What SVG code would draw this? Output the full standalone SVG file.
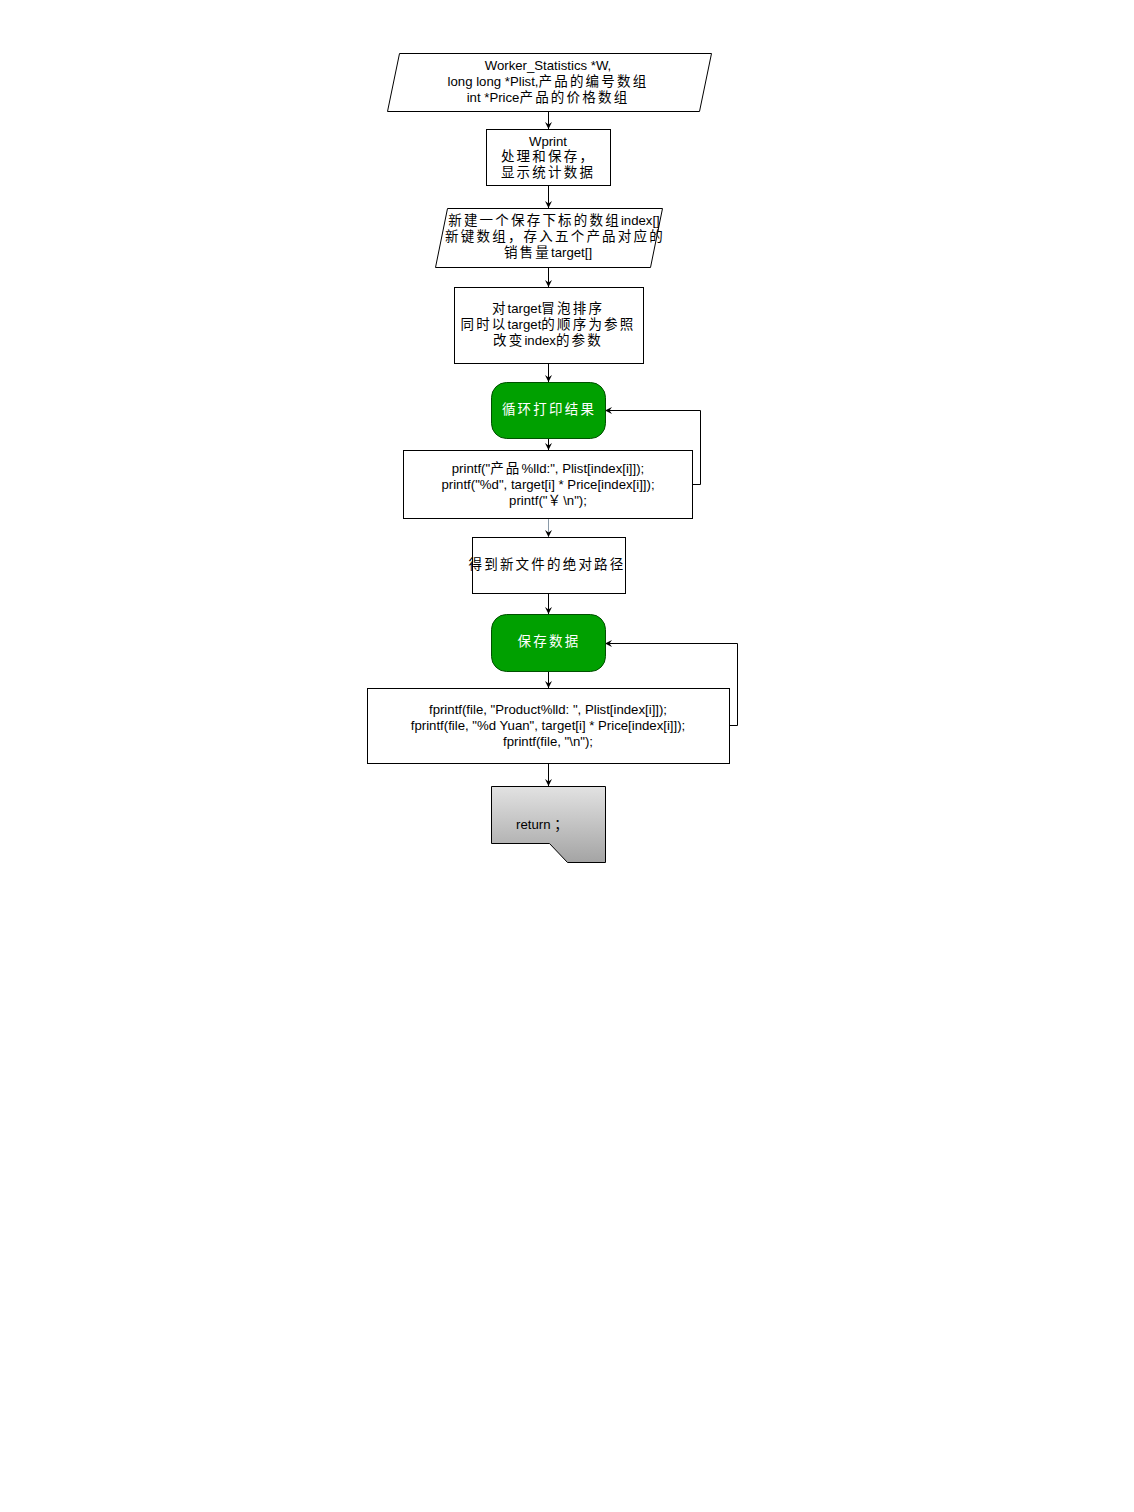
<svg xmlns="http://www.w3.org/2000/svg" width="1134" height="1512" viewBox="0 0 1134 1512">
<style>
.box{fill:#fff;stroke:#000;stroke-width:1}
.grn{fill:#00a000;stroke:#005000;stroke-width:1}
.t{font-family:"Liberation Sans","Noto Sans CJK SC",sans-serif;font-size:13.2px;fill:#000;text-anchor:middle}
.w{fill:#fff}
.c{font-family:"Noto Sans CJK SC",sans-serif;font-size:13.5px;letter-spacing:2.2px}
.ln{fill:none;stroke:#000;stroke-width:1}
</style>
<defs>
<marker id="ah" markerWidth="8" markerHeight="8" refX="7" refY="3.5" orient="auto" markerUnits="userSpaceOnUse">
<path d="M0,0 L7,3.5 L0,7 L2.5,3.5 z" fill="#000"/>
</marker>
<linearGradient id="gg" x1="0" y1="0" x2="0" y2="1">
<stop offset="0" stop-color="#e2e2e2"/>
<stop offset="1" stop-color="#a4a4a4"/>
</linearGradient>
</defs>
<rect width="1134" height="1512" fill="#fff"/>
<g id="connectors">
<line class="ln" x1="548.5" y1="111" x2="548.5" y2="129" marker-end="url(#ah)"/>
<line class="ln" x1="548.5" y1="185" x2="548.5" y2="208" marker-end="url(#ah)"/>
<line class="ln" x1="548.5" y1="267" x2="548.5" y2="287" marker-end="url(#ah)"/>
<line class="ln" x1="548.5" y1="363" x2="548.5" y2="382" marker-end="url(#ah)"/>
<line class="ln" x1="548.5" y1="438" x2="548.5" y2="450" marker-end="url(#ah)"/>
<line class="ln" x1="548.5" y1="518" x2="548.5" y2="537" marker-end="url(#ah)" style="stroke:#8a9aa8"/>
<line class="ln" x1="548.5" y1="593" x2="548.5" y2="614" marker-end="url(#ah)"/>
<line class="ln" x1="548.5" y1="671" x2="548.5" y2="688" marker-end="url(#ah)"/>
<line class="ln" x1="548.5" y1="763" x2="548.5" y2="786" marker-end="url(#ah)"/>
<polyline class="ln" points="692,484.5 700.5,484.5 700.5,410.5 605,410.5" marker-end="url(#ah)"/>
<polyline class="ln" points="729,725.5 737.5,725.5 737.5,643.5 605,643.5" marker-end="url(#ah)"/>
</g>
<g id="n1">
<polygon class="box" points="399.5,53.5 711.5,53.5 699.5,111.5 387.5,111.5"/>
<text class="t" x="548" y="69.5">Worker_Statistics *W,</text>
<text class="t" x="548" y="85.5">long long *Plist,<tspan class="c">产品的编号数组</tspan></text>
<text class="t" x="548" y="101.5">int *Price<tspan class="c">产品的价格数组</tspan></text>
</g>
<g id="n2">
<rect class="box" x="486.5" y="129.5" width="124" height="56"/>
<text class="t" x="548" y="145.5">Wprint</text>
<text class="t c" x="548" y="161">处理和保存，</text>
<text class="t c" x="548" y="177">显示统计数据</text>
</g>
<g id="n3">
<polygon class="box" points="447.5,208.5 662.5,208.5 650.5,267.5 435.5,267.5"/>
<text class="t" x="554" y="225"><tspan class="c">新建一个保存下标的数组</tspan>index[]</text>
<text class="t c" x="555" y="241">新键数组，存入五个产品对应的</text>
<text class="t" x="548" y="257"><tspan class="c">销售量</tspan>target[]</text>
</g>
<g id="n4">
<rect class="box" x="454.5" y="287.5" width="189" height="76"/>
<text class="t" x="548" y="313"><tspan class="c">对</tspan>target<tspan class="c">冒泡排序</tspan></text>
<text class="t" x="548" y="329"><tspan class="c">同时以</tspan>target<tspan class="c">的顺序为参照</tspan></text>
<text class="t" x="548" y="345"><tspan class="c">改变</tspan>index<tspan class="c">的参数</tspan></text>
</g>
<g id="n5">
<rect class="grn" x="491.5" y="382.5" width="114" height="56" rx="15" ry="15"/>
<text class="t c w" x="549" y="414">循环打印结果</text>
</g>
<g id="n6">
<rect class="box" x="403.5" y="450.5" width="289" height="68"/>
<text class="t" x="548" y="473">printf("<tspan class="c">产品</tspan>%lld:", Plist[index[i]]);</text>
<text class="t" x="548" y="489">printf("%d", target[i] * Price[index[i]]);</text>
<text class="t" x="548" y="505">printf("<tspan class="c">￥</tspan>\n");</text>
</g>
<g id="n7">
<rect class="box" x="472.5" y="537.5" width="153" height="56"/>
<text class="t c" x="547" y="569">得到新文件的绝对路径</text>
</g>
<g id="n8">
<rect class="grn" x="491.5" y="614.5" width="114" height="57" rx="15" ry="15"/>
<text class="t c w" x="549" y="646">保存数据</text>
</g>
<g id="n9">
<rect class="box" x="367.5" y="688.5" width="362" height="75"/>
<text class="t" x="548" y="714">fprintf(file, "Product%lld: ", Plist[index[i]]);</text>
<text class="t" x="548" y="730">fprintf(file, "%d Yuan", target[i] * Price[index[i]]);</text>
<text class="t" x="548" y="746">fprintf(file, "\n");</text>
</g>
<g id="n10">
<polygon points="491.5,786.5 605.5,786.5 605.5,862.5 567.5,862.5 549.5,843.5 491.5,843.5" fill="url(#gg)" stroke="#000" stroke-width="1"/>
<text class="t" x="543" y="829">return <tspan class="c">；</tspan></text>
</g>
</svg>
